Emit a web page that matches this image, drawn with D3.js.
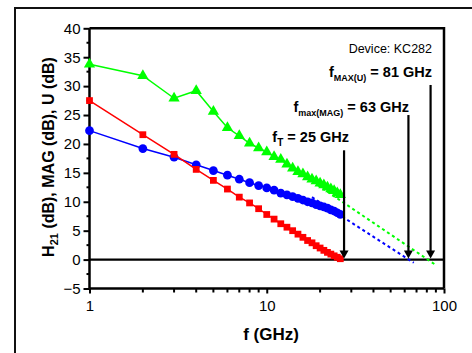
<!DOCTYPE html>
<html>
<head>
<meta charset="utf-8">
<script src="https://cdn.jsdelivr.net/npm/d3@7"></script>
<style>
  body { margin: 0; background: #fff; }
  svg { font-family: Arial, "Liberation Sans", sans-serif; }
</style>
</head>
<body>
<div id="chart"></div>
<script>
// frequencies in GHz, one point per GHz
const freq = d3.range(1, 27);

// H21 (dB), red squares
const h21 = [27.5, 21.6, 18.2, 15.6, 13.7, 12.2, 10.8, 9.8, 8.8, 7.8, 7.0, 6.2, 5.6,
  5.0, 4.4, 3.85, 3.3, 2.9, 2.4, 2.0, 1.6, 1.25, 0.95, 0.65, 0.4, 0.15];
// MAG (dB), blue circles
const mag = [22.3, 19.2, 17.7, 16.4, 15.4, 14.6, 13.9, 13.3, 12.8, 12.4, 12.0, 11.5, 11.2,
  10.9, 10.6, 10.3, 10.0, 9.8, 9.5, 9.3, 9.1, 8.9, 8.6, 8.4, 8.1, 7.8];
// U (dB), green triangles
const uGain = [33.8, 31.8, 27.9, 29.2, 25.6, 22.8, 21.4, 20.1, 19.3, 18.6, 17.8, 17.3, 16.5,
  15.8, 15.2, 14.8, 14.3, 13.9, 13.6, 13.2, 12.9, 12.5, 12.2, 11.9, 11.5, 11.2];

// extrapolation lines (dashed), [freq, dB]
const magExtrap = [[18, 10.8], [67.5, -0.55]];
const uExtrap = [[14, 15.8], [90, -0.95]];

// cutoff arrows
const arrowFreq = [27.3, 63, 84];
const arrowTop = [18.9, 25.0, 30.2];
const arrowLabels = [
  {main: 'f', sub: 'T', rest: ' = 25 GHz'},
  {main: 'f', sub: 'max(MAG)', rest: ' = 63 GHz'},
  {main: 'f', sub: 'MAX(U)', rest: ' = 81 GHz'}
];

const yTicks = d3.range(-5, 41, 5);
const yMinor = d3.range(-2.5, 40, 5);
const xMajor = [1, 10, 100];
const xMinor = [2, 3, 4, 5, 6, 7, 8, 9, 20, 30, 40, 50, 60, 70, 80, 90];

const W = 472, H = 353;
const svg = d3.select('#chart').append('svg')
  .attr('width', W)
  .attr('height', H);

// outer frame
svg.append('rect')
  .attr('x', 15).attr('y', 8)
  .attr('width', 490).attr('height', 380)
  .attr('fill', 'none')
  .attr('stroke', '#111')
  .attr('stroke-width', 2);

const x = d3.scaleLog().domain([1, 100]).range([89.5, 444]);
const y = d3.scaleLinear().domain([-5, 40]).range([288.5, 28.3]);

// minor ticks
svg.append('g').selectAll('line')
  .data(yMinor).enter().append('line')
  .attr('x1', x(1) - 3).attr('x2', x(1))
  .attr('y1', d => y(d)).attr('y2', d => y(d))
  .attr('stroke', '#000').attr('stroke-width', 2);

svg.append('g').selectAll('line')
  .data(xMinor).enter().append('line')
  .attr('x1', d => x(d)).attr('x2', d => x(d))
  .attr('y1', y(-5)).attr('y2', y(-5) + 4)
  .attr('stroke', '#000').attr('stroke-width', 2);

// y axis
const yAxis = svg.append('g')
  .attr('transform', 'translate(' + x(1) + ',0)')
  .call(d3.axisLeft(y).tickValues(yTicks).tickSize(6).tickPadding(3).tickFormat(d3.format('d')));

// x axis
const xAxis = svg.append('g')
  .attr('transform', 'translate(0,' + y(-5) + ')')
  .call(d3.axisBottom(x).tickValues(xMajor).tickSize(5).tickPadding(7).tickFormat(d3.format('d')));

[yAxis, xAxis].forEach(a => {
  a.select('.domain').attr('stroke', '#000').attr('stroke-width', 2.5);
  a.selectAll('.tick line').attr('stroke', '#000').attr('stroke-width', 2);
  a.selectAll('.tick text')
    .attr('fill', '#000')
    .style('font-size', '15px')
    .style('font-family', 'Arial, "Liberation Sans", sans-serif');
});
xAxis.select('.domain').attr('d', 'M' + x(1) + ',0H' + x(100));
yAxis.select('.domain').attr('d', 'M0,' + y(-5) + 'V' + y(40));

// top and right borders
svg.append('path')
  .attr('d', 'M' + x(1) + ',' + y(40) + 'H' + x(100) + 'V' + y(-5))
  .attr('fill', 'none')
  .attr('stroke', '#000')
  .attr('stroke-width', 2.5);

// zero line
svg.append('line')
  .attr('x1', x(1)).attr('x2', x(100))
  .attr('y1', y(0)).attr('y2', y(0))
  .attr('stroke', '#000').attr('stroke-width', 2.2);

// dashed extrapolations
const line = d3.line().x(d => x(d[0])).y(d => y(d[1]));
svg.append('path').datum(uExtrap)
  .attr('d', line)
  .attr('stroke', '#00ff00').attr('stroke-width', 2)
  .attr('stroke-dasharray', '3,3').attr('fill', 'none');
svg.append('path').datum(magExtrap)
  .attr('d', line)
  .attr('stroke', '#0000ff').attr('stroke-width', 2)
  .attr('stroke-dasharray', '3,3').attr('fill', 'none');

const series = [
  {vals: uGain, color: '#00ff00', symbol: d3.symbolTriangle, size: 55},
  {vals: mag, color: '#0000ff', symbol: d3.symbolCircle, size: 60},
  {vals: h21, color: '#ff0000', symbol: d3.symbolSquare, size: 46}
];

series.forEach(s => {
  const pts = freq.map((f, i) => [f, s.vals[i]]);
  svg.append('path').datum(pts)
    .attr('d', line)
    .attr('fill', 'none')
    .attr('stroke', s.color)
    .attr('stroke-width', 1.5);
  svg.append('g').selectAll('path')
    .data(pts).enter().append('path')
    .attr('transform', d => 'translate(' + x(d[0]) + ',' + y(d[1]) + ')')
    .attr('d', d3.symbol().type(s.symbol).size(s.size))
    .attr('fill', s.color);
});

// arrows
const arrowG = svg.append('g');
arrowFreq.forEach((f, i) => {
  const ax = x(f);
  arrowG.append('line')
    .attr('x1', ax).attr('x2', ax)
    .attr('y1', y(arrowTop[i])).attr('y2', y(0) - 6)
    .attr('stroke', '#000').attr('stroke-width', 2.2);
  arrowG.append('path')
    .attr('d', 'M' + (ax - 4.5) + ',' + (y(0) - 9) + 'L' + (ax + 4.5) + ',' + (y(0) - 9) + 'L' + ax + ',' + (y(0) - 1) + 'Z')
    .attr('fill', '#000');
});

// arrow labels (right edges and baselines)
const labelPos = [[349, 141.5], [409, 112], [432, 77]];
arrowLabels.forEach((l, i) => {
  const t = svg.append('text')
    .attr('x', labelPos[i][0]).attr('y', labelPos[i][1])
    .attr('text-anchor', 'end')
    .style('font-size', '14.5px')
    .style('font-weight', 'bold');
  t.append('tspan').text(l.main);
  t.append('tspan').attr('dy', 4).style('font-size', i === 0 ? '10px' : '9px').text(l.sub);
  t.append('tspan').attr('dy', -4).text(l.rest);
});

svg.append('text')
  .attr('x', 432).attr('y', 53)
  .attr('text-anchor', 'end')
  .style('font-size', '12.5px')
  .text('Device: KC282');

// axis titles
const yTitle = svg.append('text')
  .attr('transform', 'translate(54,157) rotate(-90)')
  .attr('text-anchor', 'middle')
  .style('font-size', '16px')
  .style('font-weight', 'bold');
yTitle.append('tspan').text('H');
yTitle.append('tspan').attr('dy', 4).style('font-size', '11px').text('21');
yTitle.append('tspan').attr('dy', -4).text(' (dB), MAG (dB), U (dB)');

svg.append('text')
  .attr('x', 271).attr('y', 340)
  .attr('text-anchor', 'middle')
  .style('font-size', '17px')
  .style('font-weight', 'bold')
  .text('f (GHz)');
</script>
</body>
</html>
